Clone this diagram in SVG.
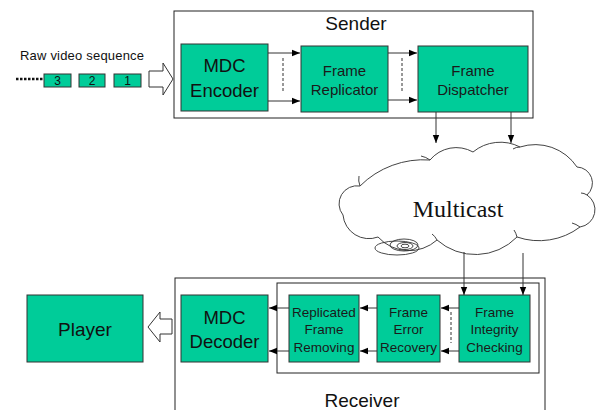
<svg xmlns="http://www.w3.org/2000/svg" width="604" height="410" viewBox="0 0 604 410">
<defs>
<style>
.box{fill:#00CC99;stroke:#333;stroke-width:1}
.frame{fill:#fff;stroke:#222;stroke-width:1}
.t{font-family:"Liberation Sans",Arial,sans-serif;fill:#111;text-anchor:middle}
.big{font-size:18.5px}
.mid{font-size:15px;fill:#1a1a1a}
.sm{font-size:13.5px;fill:#1a1a1a}
.conn line{stroke:#333;stroke-width:1}
.dash{stroke:#555;stroke-width:1;stroke-dasharray:3,2}
.tail{fill:none;stroke:#444;stroke-width:1}
</style>
<marker id="ah" viewBox="0 0 8 8" refX="8" refY="4" markerWidth="8" markerHeight="8" orient="auto" markerUnits="userSpaceOnUse"><path d="M0,0.8 L8,4 L0,7.2 z" fill="#000"/></marker>
</defs>
<rect width="604" height="410" fill="#fff"/>

<g id="sender">
<rect class="frame" x="174" y="11" width="359" height="107"/>
<text class="t" x="356" y="30" font-size="19">Sender</text>
</g>
<g id="receiver">
<rect class="frame" x="175" y="278" width="370" height="140"/>
<rect class="frame" x="277" y="283" width="262" height="90"/>
<text class="t" x="362" y="407" font-size="19">Receiver</text>
</g>

<g id="raw-sequence">
<text class="t" x="82" y="60" font-size="13" textLength="124">Raw video sequence</text>
<line x1="16" y1="79" x2="43" y2="79" stroke="#111" stroke-width="2.5" stroke-dasharray="2.5,1.5"/>
<rect class="box" x="44" y="74" width="27" height="13"/>
<text class="t" x="57.5" y="85" font-size="12">3</text>
<rect class="box" x="79" y="74" width="26" height="13"/>
<text class="t" x="92" y="85" font-size="12">2</text>
<rect class="box" x="114" y="74" width="27" height="13"/>
<text class="t" x="127.5" y="85" font-size="12">1</text>
<polygon points="149,71 163,71 163,63 173,79 163,95 163,87 149,87" fill="#fff" stroke="#333" stroke-width="1"/>
</g>

<g id="mdc-encoder">
<rect class="box" x="181" y="44" width="87" height="67"/>
<text class="t big" x="224.5" y="72">MDC</text>
<text class="t big" x="224.5" y="97">Encoder</text>
</g>
<g id="frame-replicator">
<rect class="box" x="301" y="46" width="87" height="66"/>
<text class="t mid" x="344.5" y="76">Frame</text>
<text class="t mid" x="344.5" y="95">Replicator</text>
</g>
<g id="frame-dispatcher">
<rect class="box" x="418" y="46" width="110" height="66"/>
<text class="t mid" x="473" y="76">Frame</text>
<text class="t mid" x="473" y="95">Dispatcher</text>
</g>

<g id="multicast">
<path d="M343,215 A18,18 0 0 1 360,186 A90,90 0 0 1 430,160 A34,34 0 0 1 473,152 A43,43 0 0 1 520,147 A50,50 0 0 1 577,167 A16,16 0 0 1 587,195 A17.5,17.5 0 0 1 580,227 A68,68 0 0 1 517,237 A58,58 0 0 1 437,240 A42,42 0 0 1 378,237 A26,26 0 0 1 343,215 Z" fill="#fff" stroke="#444" stroke-width="1"/>
<path class="tail" d="M360,186 Q358,181 359,176"/>
<path class="tail" d="M421,156 Q426,157 430,160"/>
<path class="tail" d="M513,149 Q516,147 520,147"/>
<path class="tail" d="M587,195 Q584,193 581,193"/>
<path class="tail" d="M580,227 Q576,224 572,223"/>
<path class="tail" d="M517,237 Q516,233 514,230"/>
<path class="tail" d="M437,240 Q435,236 432,234"/>
<ellipse cx="397" cy="248" rx="22" ry="7" fill="none" stroke="#333" stroke-width="0.9"/>
<ellipse cx="404" cy="245" rx="14" ry="6" fill="none" stroke="#333" stroke-width="0.9"/>
<ellipse cx="405" cy="246" rx="8" ry="3.5" fill="none" stroke="#333" stroke-width="0.9"/>
<ellipse cx="405" cy="246" rx="4" ry="1.8" fill="none" stroke="#333" stroke-width="0.9"/>
<text x="458" y="217" font-family="'Liberation Serif','Times New Roman',serif" font-size="24" text-anchor="middle" fill="#111">Multicast</text>
</g>

<g id="player">
<rect class="box" x="27" y="295" width="116" height="67"/>
<text class="t" x="85" y="336" font-size="19">Player</text>
</g>
<g id="mdc-decoder">
<rect class="box" x="181" y="295" width="87" height="67"/>
<text class="t big" x="224.5" y="324">MDC</text>
<text class="t big" x="224.5" y="348">Decoder</text>
</g>
<g id="replicated-frame-removing">
<rect class="box" x="289" y="295" width="70" height="67"/>
<text class="t sm" x="324" y="317">Replicated</text>
<text class="t sm" x="324" y="334">Frame</text>
<text class="t sm" x="324" y="352">Removing</text>
</g>
<g id="frame-error-recovery">
<rect class="box" x="377" y="295" width="63" height="67"/>
<text class="t sm" x="408.5" y="317">Frame</text>
<text class="t sm" x="408.5" y="334">Error</text>
<text class="t sm" x="408.5" y="352">Recovery</text>
</g>
<g id="frame-integrity-checking">
<rect class="box" x="459" y="295" width="71" height="67"/>
<text class="t sm" x="494.5" y="317">Frame</text>
<text class="t sm" x="494.5" y="334">Integrity</text>
<text class="t sm" x="494.5" y="352">Checking</text>
</g>

<g id="connectors" class="conn">
<line x1="268" y1="53" x2="300" y2="53" marker-end="url(#ah)"/>
<line x1="268" y1="101" x2="300" y2="101" marker-end="url(#ah)"/>
<line class="dash" x1="283" y1="58" x2="283" y2="93"/>
<line x1="388" y1="53" x2="417" y2="53" marker-end="url(#ah)"/>
<line x1="388" y1="100" x2="417" y2="100" marker-end="url(#ah)"/>
<line class="dash" x1="402" y1="58" x2="402" y2="93"/>
<line x1="436" y1="112" x2="436" y2="143" marker-end="url(#ah)"/>
<line x1="511" y1="112" x2="511" y2="143" marker-end="url(#ah)"/>
<line x1="464" y1="252" x2="464" y2="295" marker-end="url(#ah)"/>
<line x1="523" y1="253" x2="523" y2="295" marker-end="url(#ah)"/>
<line x1="459" y1="308" x2="441" y2="308" marker-end="url(#ah)"/>
<line x1="459" y1="351" x2="441" y2="351" marker-end="url(#ah)"/>
<line class="dash" x1="451" y1="312" x2="451" y2="343"/>
<line x1="377" y1="308" x2="360" y2="308" marker-end="url(#ah)"/>
<line x1="377" y1="351" x2="360" y2="351" marker-end="url(#ah)"/>
<line x1="289" y1="308" x2="269" y2="308" marker-end="url(#ah)"/>
<line x1="289" y1="351" x2="269" y2="351" marker-end="url(#ah)"/>
<polygon points="172,319 160,319 160,312 148,327 160,342 160,334 172,334" fill="#fff" stroke="#333" stroke-width="1"/>
</g>
</svg>
